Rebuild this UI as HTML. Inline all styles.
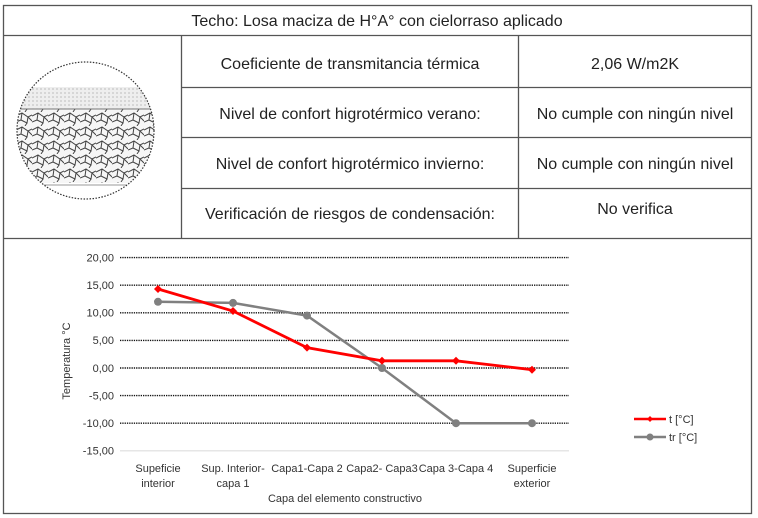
<!DOCTYPE html>
<html><head><meta charset="utf-8"><style>
body{margin:0;background:#fff;}
svg{display:block;font-family:"Liberation Sans",sans-serif;}
</style></head><body>
<svg width="758" height="518" viewBox="0 0 758 518">
<rect x="0" y="0" width="758" height="518" fill="#fff"/>
<g stroke="#555" stroke-width="1.3" fill="none">
<rect x="3.5" y="5.5" width="748" height="508"/>
<line x1="3.5" y1="35.5" x2="751.5" y2="35.5"/>
<line x1="3.5" y1="238.5" x2="751.5" y2="238.5"/>
<line x1="181.5" y1="35.5" x2="181.5" y2="238.5"/>
<line x1="518.5" y1="35.5" x2="518.5" y2="238.5"/>
<line x1="181.5" y1="87.5" x2="751.5" y2="87.5"/>
<line x1="181.5" y1="137.5" x2="751.5" y2="137.5"/>
<line x1="181.5" y1="188.5" x2="751.5" y2="188.5"/>
</g>
<g font-size="16" fill="#222" text-anchor="middle">
<text x="377" y="26">Techo: Losa maciza de H°A° con cielorraso aplicado</text>
<text x="350" y="69">Coeficiente de transmitancia térmica</text>
<text x="635" y="69">2,06 W/m2K</text>
<text x="350" y="119">Nivel de confort higrotérmico verano:</text>
<text x="635" y="119">No cumple con ningún nivel</text>
<text x="350" y="169">Nivel de confort higrotérmico invierno:</text>
<text x="635" y="169">No cumple con ningún nivel</text>
<text x="350" y="219">Verificación de riesgos de condensación:</text>
<text x="635" y="214">No verifica</text>
</g>
<defs><clipPath id="c"><circle cx="85.5" cy="130.5" r="68.5"/></clipPath>
<pattern id="v" width="16" height="14" patternUnits="userSpaceOnUse">
<path d="M0 4 L6 1 L12 5 L16 3 M6 1 L5 8 L0 10 M5 8 L11 11 L12 5 M11 11 L9 14 M12 5 L16 9" stroke="#444" stroke-width="1" fill="none"/></pattern>
<pattern id="d" width="4" height="4" patternUnits="userSpaceOnUse"><rect width="4" height="4" fill="#eee"/><circle cx="1" cy="1" r="0.6" fill="#999"/></pattern></defs>
<g clip-path="url(#c)">
<rect x="10" y="87" width="150" height="22" fill="url(#d)"/>
<rect x="10" y="109" width="150" height="74" fill="#f6f6f6"/>
<rect x="10" y="109" width="150" height="74" fill="url(#v)"/>
<line x1="10" y1="109" x2="160" y2="109" stroke="#777"/>
<line x1="10" y1="185" x2="160" y2="185" stroke="#999"/>
</g>
<circle cx="85.5" cy="130.5" r="68.5" fill="none" stroke="#333" stroke-width="1.2" stroke-dasharray="1.5 1.5"/>
<g stroke="#111" stroke-width="1.4" stroke-dasharray="1.3 1">
<line x1="120" y1="257.6" x2="569" y2="257.6"/>
<line x1="120" y1="285.2" x2="569" y2="285.2"/>
<line x1="120" y1="312.8" x2="569" y2="312.8"/>
<line x1="120" y1="340.4" x2="569" y2="340.4"/>
<line x1="120" y1="368" x2="569" y2="368"/>
<line x1="120" y1="395.6" x2="569" y2="395.6"/>
<line x1="120" y1="423.2" x2="569" y2="423.2"/>
</g>
<line x1="120" y1="450.8" x2="569" y2="450.8" stroke="#ddd" stroke-width="1.2"/>
<g font-size="11" fill="#333" text-anchor="end">
<text x="114" y="261.5">20,00</text><text x="114" y="289">15,00</text><text x="114" y="316.5">10,00</text>
<text x="114" y="344">5,00</text><text x="114" y="372">0,00</text><text x="114" y="399.5">-5,00</text>
<text x="114" y="427">-10,00</text><text x="114" y="454.5">-15,00</text>
</g>
<text transform="translate(70,361) rotate(-90)" font-size="11" fill="#333" text-anchor="middle">Temperatura °C</text>
<g font-size="11" fill="#333" text-anchor="middle">
<text x="158" y="472">Supeficie</text><text x="158" y="487">interior</text>
<text x="233" y="472">Sup. Interior-</text><text x="233" y="487">capa 1</text>
<text x="307" y="472">Capa1-Capa 2</text>
<text x="382" y="472">Capa2- Capa3</text>
<text x="456" y="472">Capa 3-Capa 4</text>
<text x="532" y="472">Superficie</text><text x="532" y="487">exterior</text>
<text x="345" y="502">Capa del elemento constructivo</text>
</g>
<polyline points="158,301.8 233,302.9 307,315.6 382,368 456,423.2 532,423.2" fill="none" stroke="#808080" stroke-width="2.5"/>
<g fill="#808080"><circle cx="158" cy="301.8" r="4"/><circle cx="233" cy="302.9" r="4"/><circle cx="307" cy="315.6" r="4"/><circle cx="382" cy="368" r="4"/><circle cx="456" cy="423.2" r="4"/><circle cx="532" cy="423.2" r="4"/></g>
<polyline points="158,289 233,311 307,347.6 382,360.8 456,360.8 532,369.7" fill="none" stroke="#f00" stroke-width="2.8"/>
<g fill="#f00">
<path d="M158 285 l4 4 l-4 4 l-4 -4z"/><path d="M233 307 l4 4 l-4 4 l-4 -4z"/><path d="M307 343.6 l4 4 l-4 4 l-4 -4z"/>
<path d="M382 356.8 l4 4 l-4 4 l-4 -4z"/><path d="M456 356.8 l4 4 l-4 4 l-4 -4z"/><path d="M532 365.7 l4 4 l-4 4 l-4 -4z"/></g>
<line x1="634" y1="419" x2="666" y2="419" stroke="#f00" stroke-width="2.5"/>
<path d="M650 416 l3 3 l-3 3 l-3 -3z" fill="#f00"/>
<text x="669" y="423" font-size="11" fill="#333">t [°C]</text>
<line x1="634" y1="437" x2="666" y2="437" stroke="#808080" stroke-width="2.5"/>
<circle cx="650" cy="437" r="3.5" fill="#808080"/>
<text x="669" y="441" font-size="11" fill="#333">tr [°C]</text>
</svg>
</body></html>
